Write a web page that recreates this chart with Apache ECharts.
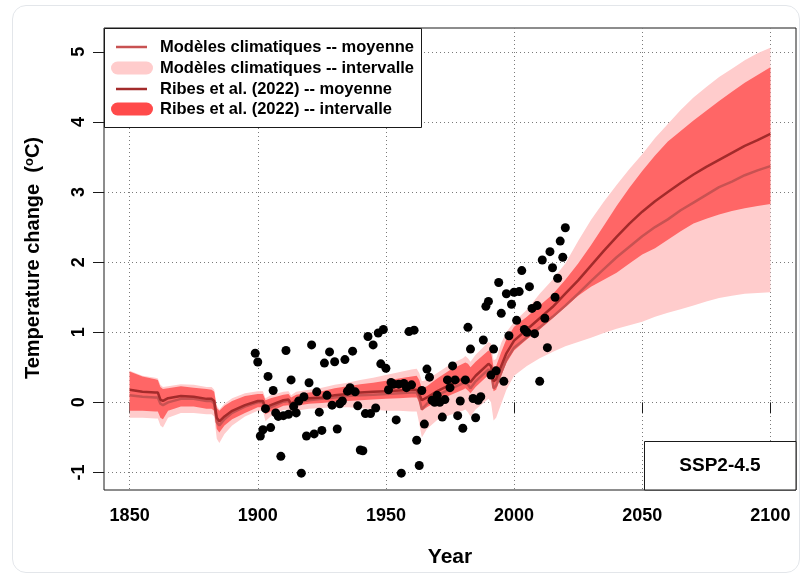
<!DOCTYPE html>
<html><head><meta charset="utf-8">
<script src="https://cdn.jsdelivr.net/npm/echarts@6/dist/echarts.min.js"></script>
<style>
html,body{margin:0;padding:0;background:#fff;}
#wrap{position:relative;width:808px;height:578px;}
#chart{position:absolute;left:0;top:0;width:808px;height:578px;}
#frame{position:absolute;left:12px;top:5px;width:788px;height:568px;border:1px solid #e3e6ea;border-radius:14px;box-sizing:border-box;pointer-events:none;}
</style>
</head><body><div id="wrap"><div id="chart"></div><div id="frame"></div></div>
<script>
// ---- tick labels ----
const xTicks = [1850, 1900, 1950, 2000, 2050, 2100];
const yTicks = [-1, 0, 1, 2, 3, 4, 5];

// ---- curve years ----
const years = [1850,1855,1860,1861,1862,1863,1865,1870,1875,1880,1882,1883,1884,1885,1887,1890,1895,1900,1902,1903,1905,1910,1912,1913,1915,1920,1925,1930,1935,1940,1945,1950,1955,1960,1962,1963,1964,1966,1970,1975,1980,1981,1982,1983,1985,1990,1991,1992,1993,1995,1997,2000,2005,2010,2015,2020,2025,2030,2035,2040,2045,2050,2055,2060,2065,2070,2075,2080,2085,2090,2095,2100];

// Ribes et al. (2022) -- moyenne
const ribesMean = [0.18,0.15,0.14,0.14,0.04,0.02,0.06,0.09,0.08,0.05,0.05,0.02,-0.22,-0.27,-0.20,-0.12,-0.04,0.02,0.02,-0.08,-0.04,0.03,0.04,-0.02,0.03,0.06,0.07,0.10,0.12,0.14,0.15,0.16,0.17,0.18,0.18,0.12,0.03,0.07,0.16,0.25,0.34,0.36,0.33,0.29,0.38,0.55,0.52,0.30,0.33,0.52,0.70,0.88,1.04,1.20,1.36,1.55,1.74,1.95,2.16,2.36,2.55,2.72,2.87,3.00,3.13,3.25,3.36,3.46,3.56,3.66,3.74,3.83];
// Ribes et al. (2022) -- intervalle
const ribesLow = [-0.12,-0.12,-0.13,-0.13,-0.22,-0.24,-0.12,-0.06,-0.06,-0.09,-0.09,-0.12,-0.38,-0.43,-0.33,-0.24,-0.15,-0.07,-0.07,-0.17,-0.13,-0.05,-0.04,-0.10,-0.05,-0.02,-0.01,0.01,0.02,0.03,0.04,0.05,0.06,0.07,0.07,0.00,-0.12,-0.07,0.02,0.10,0.18,0.20,0.17,0.13,0.22,0.39,0.36,0.16,0.18,0.38,0.56,0.74,0.90,1.04,1.20,1.36,1.52,1.65,1.75,1.85,1.98,2.11,2.20,2.32,2.44,2.55,2.62,2.68,2.73,2.77,2.80,2.83];
const ribesHigh = [0.44,0.37,0.33,0.32,0.22,0.19,0.20,0.23,0.21,0.19,0.18,0.15,-0.08,-0.12,-0.05,0.02,0.09,0.12,0.12,0.03,0.06,0.11,0.12,0.07,0.11,0.14,0.16,0.20,0.23,0.26,0.28,0.31,0.34,0.37,0.38,0.32,0.20,0.23,0.34,0.46,0.55,0.57,0.55,0.50,0.58,0.74,0.72,0.50,0.52,0.72,0.90,1.08,1.22,1.38,1.54,1.75,1.98,2.24,2.52,2.80,3.06,3.30,3.52,3.72,3.87,4.02,4.16,4.30,4.43,4.56,4.67,4.78];

// Modèles climatiques -- moyenne
const modelMean = [0.10,0.08,0.07,0.07,-0.02,-0.04,0.00,0.05,0.05,0.02,0.02,-0.02,-0.28,-0.33,-0.24,-0.15,-0.06,0.00,0.00,-0.12,-0.07,0.01,0.02,-0.05,0.00,0.03,0.05,0.07,0.09,0.10,0.11,0.12,0.13,0.14,0.14,0.06,-0.10,-0.02,0.10,0.19,0.27,0.29,0.25,0.20,0.30,0.47,0.44,0.20,0.24,0.43,0.61,0.78,0.93,1.07,1.22,1.38,1.55,1.73,1.90,2.07,2.22,2.37,2.50,2.61,2.74,2.85,2.96,3.07,3.15,3.24,3.31,3.37];
// Modèles climatiques -- intervalle
const modelLow = [-0.22,-0.22,-0.23,-0.23,-0.33,-0.36,-0.22,-0.15,-0.15,-0.17,-0.17,-0.20,-0.52,-0.58,-0.45,-0.33,-0.20,-0.12,-0.12,-0.27,-0.20,-0.11,-0.10,-0.18,-0.12,-0.09,-0.08,-0.07,-0.07,-0.08,-0.10,-0.12,-0.12,-0.13,-0.13,-0.30,-0.50,-0.38,-0.25,-0.18,-0.12,-0.10,-0.14,-0.20,-0.10,0.05,0.00,-0.26,-0.22,-0.02,0.18,0.38,0.52,0.63,0.72,0.80,0.86,0.92,0.99,1.05,1.10,1.15,1.22,1.28,1.33,1.38,1.44,1.49,1.52,1.55,1.56,1.57];
const modelHigh = [0.45,0.38,0.35,0.34,0.25,0.22,0.23,0.26,0.25,0.22,0.22,0.18,-0.05,-0.10,-0.02,0.06,0.13,0.16,0.16,0.06,0.10,0.15,0.16,0.10,0.15,0.18,0.21,0.25,0.28,0.32,0.35,0.39,0.43,0.47,0.48,0.42,0.30,0.32,0.42,0.54,0.63,0.66,0.63,0.58,0.68,0.86,0.84,0.60,0.62,0.85,1.00,1.15,1.32,1.55,1.75,1.98,2.30,2.60,2.86,3.10,3.33,3.54,3.77,3.97,4.17,4.35,4.50,4.64,4.76,4.88,4.98,5.06];

// Observations (annual), first year 1899
const obsFirstYear = 1899;
const obsValues = [
 0.70,
 0.575,-0.48,-0.39,-0.09,0.37,-0.36,0.17,-0.15,-0.20,-0.77,
 -0.19,0.74,-0.17,0.32,-0.06,-0.15,0.02,-1.01,0.08,-0.48,
 0.28,0.82,-0.45,0.15,-0.14,-0.40,0.56,0.10,0.72,-0.04,
 0.58,-0.38,-0.02,0.02,0.61,0.16,0.21,0.73,0.15,-0.05,
 -0.68,-0.69,-0.16,0.94,-0.16,0.82,-0.08,0.99,0.55,1.04,
 0.485,0.18,0.285,0.26,-0.25,0.26,-1.01,0.27,0.21,1.01,
 0.25,1.03,-0.54,-0.90,0.17,-0.31,0.475,0.36,0.03,0.00,
 0.10,0.00,-0.21,0.04,0.32,0.21,0.52,0.32,-0.19,0.02,
 -0.37,0.32,1.07,0.76,0.055,-0.22,0.03,0.08,0.89,1.37,
 1.44,0.39,0.76,0.45,1.71,1.27,0.30,1.55,0.95,1.40,
 1.57,1.17,1.58,1.88,1.04,1.00,1.65,1.34,0.98,1.38,
 0.30,2.03,1.20,0.78,2.15,1.92,1.50,1.77,2.30,2.07,
 2.49
];

const C = {
  pink: '#ffcccc',
  red: '#ff6666',
  redLegend: '#ff4a4a',
  modelLine: '#c85252',
  ribesLine: '#a32b2b',
  grid: '#7a7a7a',
  ink: '#1a1a1a'
};
const FONT = '"Liberation Sans", Arial, Helvetica, sans-serif';

const bandData = (lo, hi) => years.map((y, i) => [y, lo[i], hi[i]]);
function bandRenderer(lo, hi, color) {
  return function (params, api) {
    if (params.dataIndex !== 0) return null;
    const pts = [];
    for (let i = 0; i < years.length; i++) pts.push(api.coord([years[i], hi[i]]));
    for (let i = years.length - 1; i >= 0; i--) pts.push(api.coord([years[i], lo[i]]));
    return { type: 'polygon', shape: { points: pts }, style: { fill: color }, silent: true };
  };
}

const chart = echarts.init(document.getElementById('chart'), null, { renderer: 'canvas' });

const legendRows = [
  { text: 'Modèles climatiques -- moyenne', kind: 'line', color: C.modelLine, y: 47 },
  { text: 'Modèles climatiques -- intervalle', kind: 'pill', color: C.pink, y: 68 },
  { text: 'Ribes et al. (2022) -- moyenne', kind: 'line', color: C.ribesLine, y: 89 },
  { text: 'Ribes et al. (2022) -- intervalle', kind: 'pill', color: C.redLegend, y: 109 }
];
const legendEls = [
  { type: 'rect', shape: { x: 104.5, y: 28.5, width: 317, height: 99 }, style: { fill: '#fff', stroke: C.ink, lineWidth: 1 }, z: 100 }
];
legendRows.forEach(r => {
  if (r.kind === 'line') {
    legendEls.push({ type: 'line', shape: { x1: 116, y1: r.y, x2: 147, y2: r.y }, style: { stroke: r.color, lineWidth: 2.5 }, z: 101 });
  } else {
    legendEls.push({ type: 'rect', shape: { x: 111, y: r.y - 6.5, width: 42, height: 13, r: 6.5 }, style: { fill: r.color }, z: 101 });
  }
  legendEls.push({ type: 'text', x: 160, y: r.y, style: { text: r.text, font: 'bold 16.5px ' + FONT, fill: '#000', textVerticalAlign: 'middle', textAlign: 'left' }, z: 101 });
});

const option = {
  animation: false,
  backgroundColor: 'transparent',
  grid: { left: 104, top: 28, width: 692, height: 462, show: true, borderColor: C.ink, borderWidth: 1, backgroundColor: 'transparent' },
  xAxis: {
    type: 'value', min: 1840, max: 2110,
    axisLine: { show: false },
    axisTick: { show: true, customValues: xTicks, length: 11, lineStyle: { color: C.ink, width: 1 } },
    axisLabel: { customValues: xTicks, formatter: v => String(v), fontSize: 18, fontWeight: 'bold', color: '#000', fontFamily: FONT, margin: 17 },
    splitLine: { show: true, lineStyle: { color: C.grid, type: [1, 3], width: 1 } }
  },
  yAxis: {
    type: 'value', min: -1.25, max: 5.34,
    axisLine: { show: false },
    axisTick: { show: true, customValues: yTicks, length: 11, lineStyle: { color: C.ink, width: 1 } },
    axisLabel: { customValues: yTicks, formatter: v => String(v), rotate: 90, fontSize: 18, fontWeight: 'bold', color: '#000', fontFamily: FONT, margin: 16 },
    splitLine: { show: true, lineStyle: { color: C.grid, type: [1, 3], width: 1 } }
  },
  graphic: [
    ...legendEls,
    { type: 'rect', shape: { x: 644.5, y: 441.5, width: 151.5, height: 48.5 }, style: { fill: '#fff', stroke: C.ink, lineWidth: 1 }, z: 100 },
    { type: 'text', x: 720, y: 466, style: { text: 'SSP2-4.5', font: 'bold 19px ' + FONT, fill: '#000', textAlign: 'center', textVerticalAlign: 'middle' }, z: 101 },
    { type: 'text', x: 450, y: 557, style: { text: 'Year', font: 'bold 21px ' + FONT, fill: '#000', textAlign: 'center', textVerticalAlign: 'middle' }, z: 101 },
    { type: 'text', x: 33, y: 258, rotation: Math.PI / 2,
      style: { text: 'Temperature change  ({sup|o}C)', font: 'bold 20px ' + FONT, fill: '#000', textAlign: 'center', textVerticalAlign: 'middle',
        rich: { sup: { fontSize: 13, fontWeight: 'bold', fontFamily: FONT, verticalAlign: 'top', lineHeight: 13, fill: '#000' } } }, z: 101 }
  ],
  series: [
    { name: 'Modèles climatiques -- intervalle', type: 'custom', z: 2, clip: true,
      data: bandData(modelLow, modelHigh), encode: { x: 0, y: [1, 2] },
      renderItem: bandRenderer(modelLow, modelHigh, C.pink) },
    { name: 'Ribes et al. (2022) -- intervalle', type: 'custom', z: 3, clip: true,
      data: bandData(ribesLow, ribesHigh), encode: { x: 0, y: [1, 2] },
      renderItem: bandRenderer(ribesLow, ribesHigh, C.red) },
    { name: 'Modèles climatiques -- moyenne', type: 'line', z: 4, symbol: 'none',
      data: years.map((y, i) => [y, modelMean[i]]), lineStyle: { color: C.modelLine, width: 2.5 } },
    { name: 'Ribes et al. (2022) -- moyenne', type: 'line', z: 5, symbol: 'none',
      data: years.map((y, i) => [y, ribesMean[i]]), lineStyle: { color: C.ribesLine, width: 2.5 } },
    { name: 'Observations', type: 'scatter', z: 6, symbol: 'circle', symbolSize: 9,
      data: obsValues.map((v, i) => [obsFirstYear + i, v]), itemStyle: { color: '#000', opacity: 1 } }
  ]
};
chart.setOption(option);
</script></body></html>
